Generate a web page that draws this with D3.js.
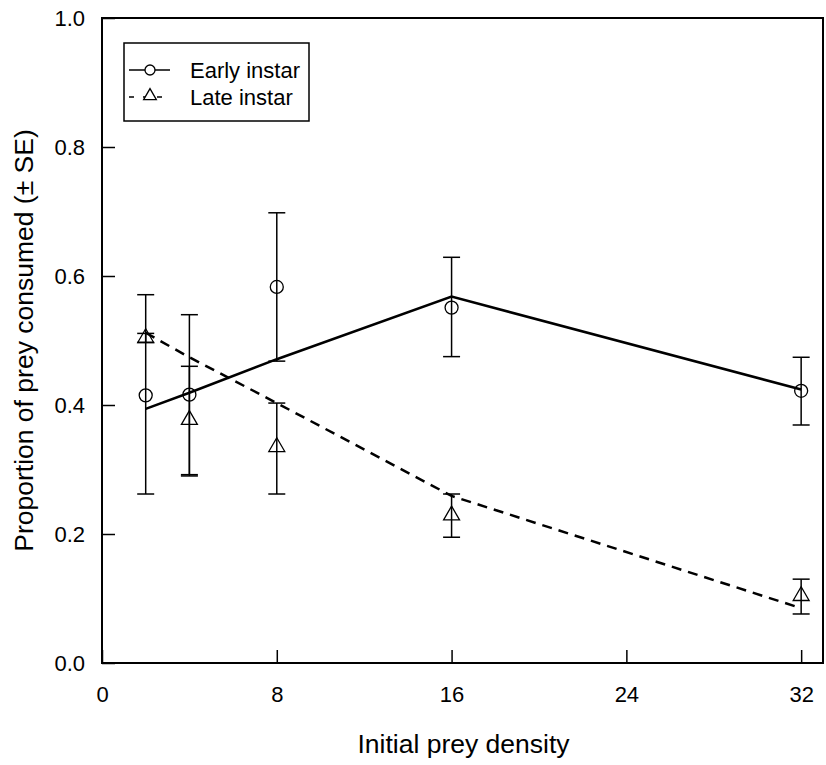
<!DOCTYPE html>
<html lang="en">
<meta charset="UTF-8">
<script src="https://cdnjs.cloudflare.com/ajax/libs/d3/7.8.5/d3.min.js"></script>
<style>
body {margin:0; background:#fff; font-family: "Liberation Sans", Arial, sans-serif}
</style>
<body>
<div id="chart"></div>
<script>
// data
var density = [2, 4, 8, 16, 32];
var earlyMean = [0.415, 0.416, 0.583, 0.551, 0.422];
var earlyLo   = [0.262, 0.290, 0.468, 0.475, 0.369];
var earlyHi   = [0.571, 0.540, 0.698, 0.629, 0.474];
var earlyFit  = [0.394, 0.419, 0.471, 0.568, 0.424];
var lateMean = [0.504, 0.377, 0.335, 0.229, 0.104];
var lateLo   = [0.497, 0.292, 0.262, 0.195, 0.076];
var lateHi   = [0.511, 0.460, 0.403, 0.262, 0.130];
var lateFit  = [0.512, 0.474, 0.403, 0.259, 0.085];
var xTicks = [0, 8, 16, 24, 32];
var yTicks = [0, 0.2, 0.4, 0.6, 0.8, 1.0];

var margin = {top: 18, right: 3, bottom: 102, left: 102},
    width = 826 - margin.left - margin.right,
    height = 765 - margin.top - margin.bottom;

var svg = d3.select("#chart").append("svg")
    .attr("width", 826).attr("height", 765)
  .append("g")
    .attr("transform", "translate(" + margin.left + "," + margin.top + ")");

var x = d3.scaleLinear().domain([0, 33]).range([0, width]);
var y = d3.scaleLinear().domain([0, 1]).range([height, 0]);

// axes, ticks pointing inward
var xAxis = svg.append("g").attr("transform", "translate(0," + height + ")")
    .call(d3.axisBottom(x).tickValues(xTicks).tickSizeInner(-13).tickSizeOuter(0).tickPadding(23).tickFormat(d3.format("d")));
var yAxis = svg.append("g")
    .call(d3.axisLeft(y).tickValues(yTicks).tickSizeInner(-13).tickSizeOuter(0).tickPadding(17).tickFormat(d3.format(".1f")));
[xAxis, yAxis].forEach(function(a) {
  a.select(".domain").remove();
  a.selectAll("line").attr("stroke", "#000").attr("stroke-width", 1.5);
  a.selectAll("text").attr("fill", "#000").style("font-size", "22px").style("font-family", "Liberation Sans, Arial, sans-serif");
});

// frame
svg.append("rect").attr("width", width).attr("height", height)
    .attr("fill", "none").attr("stroke", "#000").attr("stroke-width", 2);

var line = d3.line().x(function(d) { return x(d[0]); }).y(function(d) { return y(d[1]); });

svg.append("path").datum(d3.zip(density, earlyFit)).attr("d", line)
    .attr("fill", "none").attr("stroke", "#000").attr("stroke-width", 2.5);
svg.append("path").datum(d3.zip(density, lateFit)).attr("d", line)
    .attr("fill", "none").attr("stroke", "#000").attr("stroke-width", 2.5).attr("stroke-dasharray", "10,7");

// error bars
function errBars(lo, hi) {
  var g = svg.append("g").attr("stroke", "#000").attr("stroke-width", 1.5);
  density.forEach(function(d, i) {
    g.append("line").attr("x1", x(d)).attr("x2", x(d)).attr("y1", y(lo[i])).attr("y2", y(hi[i]));
    g.append("line").attr("x1", x(d) - 8.5).attr("x2", x(d) + 8.5).attr("y1", y(lo[i])).attr("y2", y(lo[i]));
    g.append("line").attr("x1", x(d) - 8.5).attr("x2", x(d) + 8.5).attr("y1", y(hi[i])).attr("y2", y(hi[i]));
  });
}
errBars(earlyLo, earlyHi);
errBars(lateLo, lateHi);

var tri = d3.symbol().type(d3.symbolTriangle).size(110);

svg.selectAll("circle.early").data(d3.zip(density, earlyMean)).enter().append("circle")
    .attr("cx", function(d) { return x(d[0]); }).attr("cy", function(d) { return y(d[1]); })
    .attr("r", 6.5).attr("fill", "none").attr("stroke", "#000").attr("stroke-width", 1.3);
svg.selectAll("path.late").data(d3.zip(density, lateMean)).enter().append("path")
    .attr("d", tri)
    .attr("transform", function(d) { return "translate(" + x(d[0]) + "," + y(d[1]) + ")"; })
    .attr("fill", "none").attr("stroke", "#000").attr("stroke-width", 1.3);

// legend
var leg = svg.append("g").attr("transform", "translate(22,25)");
leg.append("rect").attr("width", 185).attr("height", 78).attr("fill", "#fff").attr("stroke", "#000").attr("stroke-width", 1.5);
leg.append("line").attr("x1", 5).attr("x2", 46).attr("y1", 27).attr("y2", 27).attr("stroke", "#000").attr("stroke-width", 1.5);
leg.append("circle").attr("cx", 26).attr("cy", 27).attr("r", 5).attr("fill", "#fff").attr("stroke", "#000").attr("stroke-width", 1.3);
leg.append("line").attr("x1", 5).attr("x2", 46).attr("y1", 54).attr("y2", 54).attr("stroke", "#000").attr("stroke-width", 1.5).attr("stroke-dasharray", "5,9");
leg.append("path").attr("d", d3.symbol().type(d3.symbolTriangle).size(70)).attr("transform", "translate(26,53)")
    .attr("fill", "#fff").attr("stroke", "#000").attr("stroke-width", 1.3);
leg.append("text").attr("x", 66).attr("y", 35).text("Early instar").style("font-size", "22px");
leg.append("text").attr("x", 66).attr("y", 62).text("Late instar").style("font-size", "22px");

// axis titles
svg.append("text").attr("x", width / 2 + 1).attr("y", height + 90).attr("text-anchor", "middle")
    .style("font-size", "26.5px").text("Initial prey density");
svg.append("text").attr("transform", "translate(-69," + (height / 2) + ") rotate(-90)").attr("text-anchor", "middle")
    .style("font-size", "26.5px").text("Proportion of prey consumed (\u00b1 SE)");
</script>
</body>
</html>
